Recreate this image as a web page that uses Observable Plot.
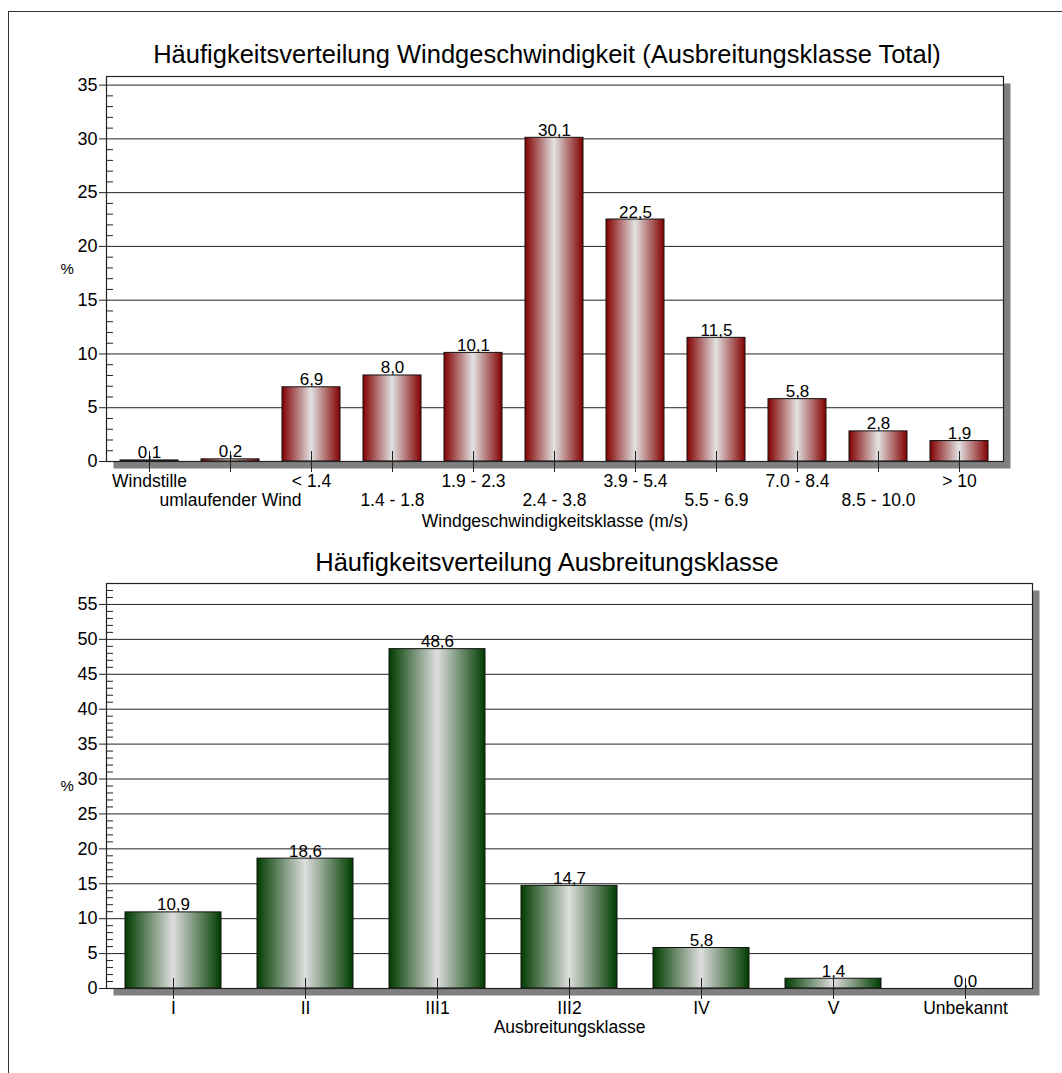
<!DOCTYPE html>
<html><head><meta charset="utf-8">
<script src="https://cdn.jsdelivr.net/npm/d3@7"></script>
<script src="https://cdn.jsdelivr.net/npm/@observablehq/plot@0.6"></script>
<style>
body{margin:0;background:#fff;font-family:"Liberation Sans",Arial,sans-serif;}
#root{position:relative;width:1062px;height:1073px;overflow:hidden;background:#fff;}
.outer{position:absolute;left:8px;top:11px;right:-5px;bottom:-5px;border-top:1.5px solid #333;border-left:1.5px solid #333;}
.title{position:absolute;left:547px;transform:translateX(-50%);white-space:nowrap;font-size:25.5px;line-height:28px;color:#000;}
.chart{position:absolute;left:0;}
</style></head><body>
<div id="root">
  <div class="outer"></div>
  <div class="title" style="top:40px">Häufigkeitsverteilung Windgeschwindigkeit (Ausbreitungsklasse Total)</div>
  <div class="title" style="top:548px">Häufigkeitsverteilung Ausbreitungsklasse</div>
  <div class="chart" id="c1" style="top:70px"></div>
  <div class="chart" id="c2" style="top:575px"></div>
</div>
<script>
// ---- data ----
const windClasses = ["Windstille","umlaufender Wind","< 1.4","1.4 - 1.8","1.9 - 2.3","2.4 - 3.8","3.9 - 5.4","5.5 - 6.9","7.0 - 8.4","8.5 - 10.0","> 10"];
const windValues  = [0.1, 0.2, 6.9, 8.0, 10.1, 30.1, 22.5, 11.5, 5.8, 2.8, 1.9];
const windTicks   = [0, 5, 10, 15, 20, 25, 30, 35];

const stabClasses = ["I","II","III1","III2","IV","V","Unbekannt"];
const stabValues  = [10.9, 18.6, 48.6, 14.7, 5.8, 1.4, 0.0];
const stabTicks   = [0, 5, 10, 15, 20, 25, 30, 35, 40, 45, 50, 55];

function makeChart(o) {
  const data = o.cats.map((c, i) => ({c, v: o.vals[i]}));
  const minor = d3.range(0, Math.floor(o.yMax) + 1).filter(d => d % 5 !== 0);
  const font = {fontSize: 17.5};
  const marks = [
    Plot.frame({fill: "#808080", stroke: null, dx: 7, dy: 7}),
    Plot.frame({fill: "white", stroke: null}),
    Plot.gridY({ticks: o.ticks, stroke: "#222", strokeOpacity: 1, strokeWidth: 1}),
    Plot.barY(data, {x: "c", y: "v", fill: `url(#${o.gradId})`, stroke: "#111", strokeWidth: 1}),
    Plot.frame({stroke: "#222", strokeWidth: 1.2}),
    Plot.axisY({ticks: o.ticks, tickSize: 7, tickPadding: 2, label: null, fontSize: 18, stroke: "#222"}),
    Plot.axisY({ticks: minor, tickSize: 7, dx: 7, tickFormat: () => "", label: null, stroke: "#222"}),
    Plot.axisX({tickSize: 21, dy: -10, tickFormat: () => "", label: null, stroke: "#222"}),
    Plot.text(data, {x: "c", y: "v", text: d => d.v.toFixed(1).replace(".", ","), dy: -2, lineAnchor: "bottom", fontSize: 17}),
    Plot.text(["%"], {frameAnchor: "left", dx: -46, fontSize: 15}),
    Plot.text([o.xTitle], {frameAnchor: "bottom", dy: o.xTitleDy, lineAnchor: "middle", ...font})
  ];
  if (o.twoRows) {
    marks.push(Plot.text(o.cats, {x: d => d, text: d => d, filter: d => o.cats.indexOf(d) % 2 === 0, frameAnchor: "bottom", dy: 20, lineAnchor: "middle", ...font}));
    marks.push(Plot.text(o.cats, {x: d => d, text: d => d, filter: d => o.cats.indexOf(d) % 2 === 1, frameAnchor: "bottom", dy: 39, lineAnchor: "middle", ...font}));
  } else {
    marks.push(Plot.text(o.cats, {x: d => d, text: d => d, frameAnchor: "bottom", dy: 20, lineAnchor: "middle", ...font}));
  }
  const svg = Plot.plot({
    width: 1062, height: o.height,
    marginLeft: 106, marginRight: o.marginRight, marginTop: o.marginTop, marginBottom: o.marginBottom,
    style: {fontFamily: "'Liberation Sans', Arial, sans-serif", background: "transparent", overflow: "visible", color: "#000"},
    x: {type: "band", domain: o.cats, paddingInner: o.pad, paddingOuter: o.pad / 2, axis: null},
    y: {domain: [0, o.yMax], axis: null},
    marks
  });
  const defs = d3.select(svg).insert("defs", ":first-child");
  const g = defs.append("linearGradient").attr("id", o.gradId).attr("x1", "0%").attr("x2", "100%").attr("y1", "0%").attr("y2", "0%");
  g.append("stop").attr("offset", "0%").attr("stop-color", o.dark);
  g.append("stop").attr("offset", "50%").attr("stop-color", o.light);
  g.append("stop").attr("offset", "100%").attr("stop-color", o.dark);
  return svg;
}

document.getElementById("c1").append(makeChart({
  cats: windClasses, vals: windValues, ticks: windTicks, yMax: 35.8,
  gradId: "gRed", dark: "#820000", light: "#e2e2e2",
  height: 470, marginTop: 6, marginBottom: 79, marginRight: 59, pad: 0.28,
  twoRows: true, xTitle: "Windgeschwindigkeitsklasse (m/s)", xTitleDy: 60
}));
document.getElementById("c2").append(makeChart({
  cats: stabClasses, vals: stabValues, ticks: stabTicks, yMax: 58,
  gradId: "gGreen", dark: "#003c00", light: "#dedede",
  height: 470, marginTop: 8, marginBottom: 57, marginRight: 30, pad: 0.27,
  twoRows: false, xTitle: "Ausbreitungsklasse", xTitleDy: 39
}));
</script>
</body></html>
